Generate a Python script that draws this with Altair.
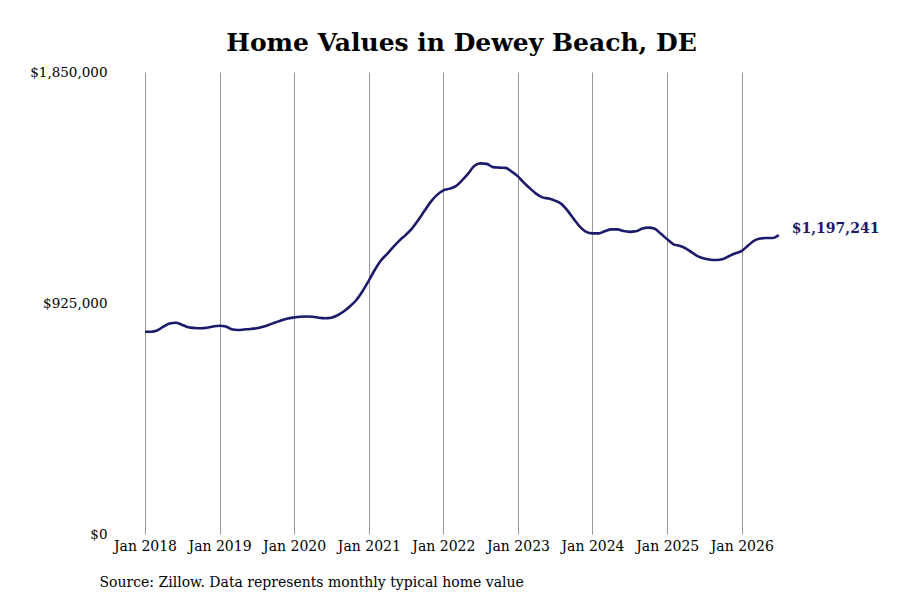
import altair as alt
import pandas as pd

# monthly typical home value, Jan 2018 .. Jul 2026
values = [
    810000, 810000, 815000, 830000, 843000, 846000, 838000, 828000, 825000, 824000, 826000, 831000,
    834000, 831000, 820000, 817000, 819000, 821000, 824000, 830000, 838000, 847000, 856000, 863000,
    867000, 870000, 871000, 870000, 866000, 864000, 866000, 876000, 892000, 912000, 937000, 972000,
    1015000, 1060000, 1095000, 1122000, 1150000, 1176000, 1198000, 1224000, 1258000, 1295000, 1331000, 1358000,
    1376000, 1383000, 1392000, 1415000, 1442000, 1474000, 1484000, 1482000, 1469000, 1467000, 1466000, 1451000,
    1432000, 1405000, 1384000, 1362000, 1348000, 1343000, 1335000, 1322000, 1295000, 1262000, 1230000, 1210000,
    1204000, 1204000, 1212000, 1220000, 1220000, 1213000, 1210000, 1212000, 1223000, 1227000, 1222000, 1202000,
    1180000, 1160000, 1154000, 1144000, 1128000, 1112000, 1103000, 1098000, 1097000, 1101000, 1113000, 1124000,
    1134000, 1155000, 1174000, 1183000, 1185000, 1185000, 1197241,
]
dates = pd.date_range("2018-01-01", periods=len(values), freq="MS")
y_ticks = [0, 925000, 1850000]

df = pd.DataFrame({"date": dates, "value": values})
navy = "#1c1a6b"
font = "DejaVu Serif"

base = alt.Chart(df).encode(
    x=alt.X(
        "date:T",
        scale=alt.Scale(domain=[alt.DateTime(year=2018, month=1, date=1),
                                alt.DateTime(year=2026, month=12, date=1)]),
        axis=alt.Axis(
            title="Source: Zillow. Data represents monthly typical home value",
            titleX=-46, titleY=48, titleAlign="left", titleAnchor="start",
            titleBaseline="middle", titleFont=font, titleFontSize=14,
            titleFontWeight="normal", titleColor="#000",
            format="%b %Y", tickCount=alt.TickCount(interval="year", step=1),
            grid=True, gridColor="#999999", gridWidth=1,
            ticks=False, domain=False, labelPadding=5,
            labelAlign="center", labelFlush=False, labelOverlap=False,
            labelFont=font, labelFontSize=14, labelColor="#000",
        ),
    ),
    y=alt.Y(
        "value:Q",
        scale=alt.Scale(domain=[0, 1850000], nice=False),
        axis=alt.Axis(
            title=None, values=y_ticks, format="$,.0f", grid=False,
            ticks=False, domain=False, labelPadding=38,
            labelFont=font, labelFontSize=13.5, labelColor="#000",
        ),
    ),
)

line = base.mark_line(color=navy, strokeWidth=2.6, interpolate="monotone")

last = base.transform_filter(
    alt.datum.date == alt.expr.toDate(str(dates[-1].date()) + "T00:00:00")
).mark_text(
    align="left", baseline="middle", dx=13, dy=-6,
    font=font, fontSize=14, fontWeight="bold", color=navy,
).encode(text=alt.Text("value:Q", format="$,.0f"))

chart = (
    (line + last)
    .properties(
        width=665, height=462,
        autosize=alt.AutoSizeParams(type="none"),
        padding={"left": 137, "top": 64, "right": 82, "bottom": 58},
        title=alt.TitleParams(
            "Home Values in Dewey Beach, DE", font=font, fontSize=25,
            fontWeight="bold", color="#000", anchor="middle", dx=-16,
            offset=22, dy=33, baseline="alphabetic",
        ),
    )
    .configure_view(stroke=None)
)

chart.save("out.html", embed_options={"renderer": "svg", "actions": False})
